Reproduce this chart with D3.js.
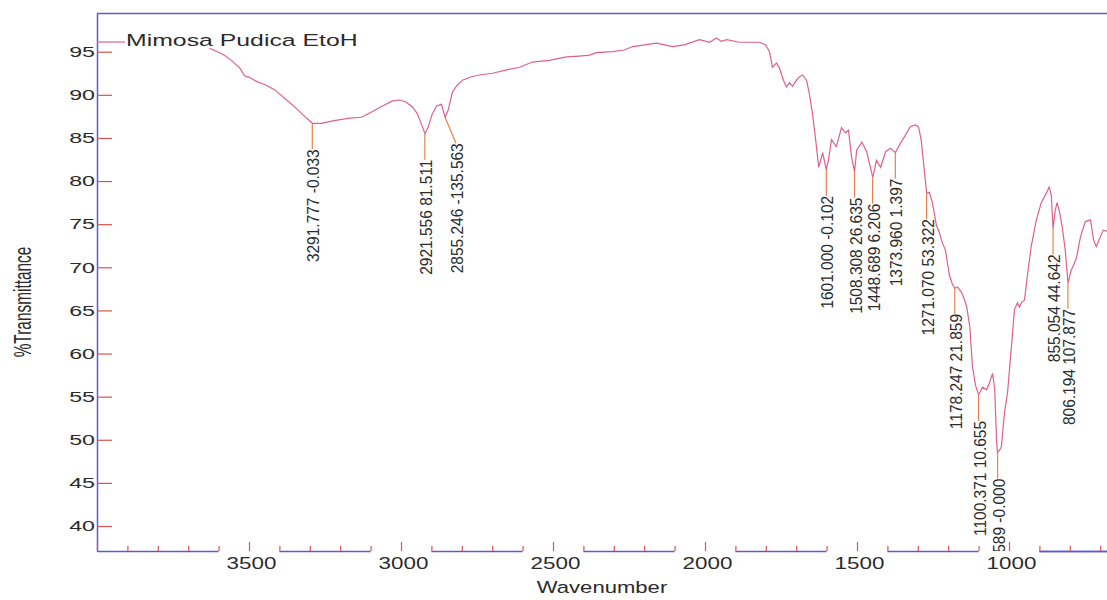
<!DOCTYPE html>
<html>
<head>
<meta charset="utf-8">
<script src="https://cdn.jsdelivr.net/npm/d3@7"></script>
<style>
  body { margin: 0; background: #fff; }
  text { font-family: "Liberation Sans", Arial, sans-serif; fill: #2b2b2b; }
</style>
</head>
<body>
<div id="chart"></div>
<script>
// spectrum (wavenumber cm-1, %T)
const wavenumber = [
  3630, 3604, 3581, 3558, 3530, 3515, 3498, 3472, 3449, 3416, 3383, 3350, 3317, 3291,
  3262, 3220, 3169, 3130, 3097, 3061, 3028, 3005, 2985, 2962, 2946, 2933, 2921, 2911,
  2898, 2883, 2867, 2855, 2845, 2831, 2818, 2798, 2768, 2742, 2699, 2653, 2610, 2568,
  2512, 2456, 2413, 2380, 2357, 2304, 2265, 2238, 2199, 2160, 2133, 2107, 2068, 2018,
  1985, 1962, 1946, 1929, 1887, 1854, 1821, 1801, 1788, 1778, 1765, 1755, 1742, 1732,
  1722, 1712, 1699, 1689, 1679, 1666, 1656, 1646, 1636, 1626, 1613, 1601, 1594, 1584,
  1568, 1551, 1538, 1528, 1518, 1508, 1501, 1484, 1468, 1458, 1448, 1436, 1422, 1406,
  1390, 1374, 1357, 1341, 1325, 1308, 1298, 1289, 1282, 1271, 1262, 1252, 1239, 1229,
  1219, 1209, 1203, 1196, 1186, 1178, 1169, 1156, 1146, 1139, 1129, 1120, 1110, 1100,
  1087, 1074, 1064, 1054, 1047, 1041, 1038, 1031, 1025, 1015, 1005, 992, 982, 972,
  966, 959, 949, 940, 927, 910, 894, 877, 868, 861, 855, 848, 842, 835,
  825, 815, 806, 795, 788, 778, 765, 749, 732, 722, 713, 700, 690, 673
];
const transmittance = [
  95.4, 95.0, 94.6, 94.0, 93.1, 92.2, 92.0, 91.5, 91.2, 90.6, 89.6, 88.6, 87.5, 86.7,
  86.7, 87.0, 87.3, 87.4, 88.0, 88.7, 89.3, 89.4, 89.2, 88.6, 87.8, 86.6, 85.5, 86.2,
  87.7, 88.7, 88.9, 87.4, 88.2, 90.3, 91.0, 91.7, 92.1, 92.3, 92.5, 92.9, 93.2, 93.8,
  94.0, 94.4, 94.5, 94.6, 94.9, 95.0, 95.2, 95.6, 95.8, 96.0, 95.8, 95.6, 95.8, 96.4,
  96.1, 96.6, 96.2, 96.4, 96.1, 96.1, 96.1, 95.8, 95.0, 93.2, 93.7, 93.1, 91.7, 90.9,
  91.4, 91.0, 91.7, 92.1, 92.3, 91.7, 90.0, 87.7, 84.8, 81.6, 83.3, 81.3, 82.4, 84.8,
  84.0, 86.2, 85.6, 85.9, 82.8, 81.1, 83.6, 84.5, 83.4, 81.9, 80.4, 82.4, 81.6, 83.4,
  83.8, 83.3, 84.4, 85.3, 86.3, 86.5, 86.3, 84.8, 82.4, 78.6, 78.7, 77.5, 74.9, 74.0,
  72.8, 72.0, 70.6, 69.1, 68.0, 67.6, 67.7, 67.1, 66.2, 65.4, 63.1, 58.4, 56.3, 55.2,
  56.1, 55.8, 56.6, 57.7, 55.8, 50.0, 48.5, 48.8, 49.2, 53.1, 55.4, 60.8, 65.1, 65.9,
  65.4, 65.9, 66.2, 68.9, 72.4, 75.5, 77.5, 78.6, 79.3, 78.4, 74.5, 76.6, 77.5, 76.6,
  74.7, 72.0, 68.2, 69.7, 70.2, 71.1, 73.5, 75.3, 75.5, 73.2, 72.4, 73.5, 74.3, 74.1
];

// peak picks
const peakWn = [3291.777, 2921.556, 2855.246, 1601.0, 1508.308, 1448.689, 1373.96,
  1271.07, 1178.247, 1100.371, 1037.589, 855.054, 806.194];
const peakT = [86.7, 85.5, 87.4, 81.3, 81.1, 80.4, 83.3, 78.6, 67.6, 55.2, 48.5, 74.5, 68.2];
const peakLabels = ["3291.777 -0.033", "2921.556 81.511", "2855.246 -135.563",
  "1601.000 -0.102", "1508.308 26.635", "1448.689 6.206", "1373.960 1.397",
  "1271.070 53.322", "1178.247 21.859", "1100.371 10.655", "1037.589 -0.000",
  "855.054 44.642", "806.194 107.877"];

const xMajor = [4000, 3500, 3000, 2500, 2000, 1500, 1000];
const yTicks = [40, 45, 50, 55, 60, 65, 70, 75, 80, 85, 90, 95];
const seriesName = "Mimosa Pudica EtoH";

const width = 1107;
const height = 600;
const margin = { top: 13, left: 97, bottom: 49 };
const blue = "#5b5bd4";
const red = "#d9534f";
const curveColor = "#e0608c";
const leaderColor = "#e8824a";

const svg = d3.select("#chart")
  .append("svg")
  .attr("width", width)
  .attr("height", height);

const x = d3.scaleLinear()
  .domain([4000, 400])
  .range([margin.left, margin.left + 3600 * 0.304]);

const y = d3.scaleLinear()
  .domain([37.1, 99.49])
  .range([height - margin.bottom, margin.top]);

const plotBottom = height - margin.bottom;

svg.append("clipPath")
  .attr("id", "plot-clip")
  .append("rect")
  .attr("x", margin.left)
  .attr("y", margin.top)
  .attr("width", width - margin.left)
  .attr("height", plotBottom - margin.top);

// top frame line
svg.append("line")
  .attr("x1", margin.left)
  .attr("x2", x(400))
  .attr("y1", margin.top + 0.5)
  .attr("y2", margin.top + 0.5)
  .attr("stroke", blue)
  .attr("stroke-width", 1.5);

// y axis
const yAxis = svg.append("g")
  .attr("class", "y axis")
  .attr("transform", "translate(" + margin.left + ",0)")
  .call(d3.axisLeft(y).tickValues(yTicks).tickSize(-15).tickSizeOuter(0).tickPadding(3));
yAxis.select(".domain").attr("stroke", blue).attr("stroke-width", 1.5);
yAxis.selectAll(".tick line").attr("stroke", red).attr("stroke-width", 1.2);
yAxis.selectAll(".tick text")
  .attr("x", -2 / 1.55)
  .attr("transform", "scale(1.55,1)")
  .style("font-size", "15px")
  .style("font-family", "'Liberation Sans', Arial, sans-serif")
  .attr("fill", "#2b2b2b");

// x axis: blue segments between labelled ticks
const segments = xMajor.map((m) => (m === 4000 ? [4000, 3600] : [m - 100, m - 400]));
segments.push([900, 600]);
svg.append("g")
  .selectAll("line")
  .data(segments)
  .enter()
  .append("line")
  .attr("x1", (d) => x(d[0]))
  .attr("x2", (d) => x(d[1]))
  .attr("y1", plotBottom + 0.5)
  .attr("y2", plotBottom + 0.5)
  .attr("stroke", blue)
  .attr("stroke-width", 1.5);

const minorAxis = svg.append("g")
  .attr("transform", "translate(0," + plotBottom + ")")
  .call(d3.axisBottom(x)
    .tickValues(d3.range(4000, 500, -100).filter((v) => v % 500 !== 0))
    .tickSize(-5)
    .tickFormat(""));
minorAxis.select(".domain").remove();
minorAxis.selectAll(".tick line").attr("stroke", red).attr("stroke-width", 1.2);

const xAxis = svg.append("g")
  .attr("class", "x axis")
  .attr("transform", "translate(0," + plotBottom + ")")
  .call(d3.axisBottom(x)
    .tickValues(xMajor)
    .tickSize(-9)
    .tickFormat((d) => (d === 4000 ? "" : d)));
xAxis.select(".domain").remove();
xAxis.selectAll(".tick line").attr("stroke", red).attr("stroke-width", 1.2);
xAxis.selectAll(".tick text")
  .attr("x", 2 / 1.4)
  .attr("y", 7)
  .attr("transform", "scale(1.4,1)")
  .style("font-size", "16px")
  .style("font-family", "'Liberation Sans', Arial, sans-serif")
  .attr("fill", "#2b2b2b");

// axis titles
svg.append("text")
  .text("Wavenumber")
  .attr("text-anchor", "middle")
  .attr("transform", "translate(602,593) scale(1.3,1)")
  .style("font-size", "17px");

svg.append("text")
  .text("%Transmittance")
  .attr("text-anchor", "middle")
  .attr("dy", "0.35em")
  .attr("transform", "translate(23,302) rotate(-90) scale(1,1.5)")
  .style("font-size", "15.4px");

// spectrum
const plot = svg.append("g").attr("clip-path", "url(#plot-clip)");
const line = d3.line()
  .x((d) => x(d[0]))
  .y((d) => y(d[1]));
plot.append("path")
  .datum(wavenumber.map((w, i) => [w, transmittance[i]]))
  .attr("fill", "none")
  .attr("stroke", curveColor)
  .attr("stroke-width", 1.2)
  .attr("d", line);

// peak labels
const leaderLen = 26;
const nudge = { 2855.246: 11 };
const peaks = peakWn.map((w, i) => ({ w: w, t: peakT[i], label: peakLabels[i] }));
const peakG = plot.selectAll(".peak").data(peaks).enter().append("g").attr("class", "peak");
peakG.append("line")
  .attr("x1", (d) => x(d.w))
  .attr("y1", (d) => y(d.t))
  .attr("x2", (d) => x(d.w) + (nudge[d.w] || 0))
  .attr("y2", (d) => y(d.t) + leaderLen)
  .attr("stroke", leaderColor)
  .attr("stroke-width", 1.2);
peakG.append("text")
  .text((d) => d.label)
  .attr("text-anchor", "end")
  .attr("dy", "0.36em")
  .attr("transform", (d) =>
    "translate(" + (x(d.w) + (nudge[d.w] || 0) + 1) + "," + (y(d.t) + leaderLen) + ") rotate(-90) scale(1,1.1)")
  .style("font-size", "15.5px");

// legend
svg.append("line")
  .attr("x1", margin.left)
  .attr("x2", 125)
  .attr("y1", 42)
  .attr("y2", 42)
  .attr("stroke", curveColor)
  .attr("stroke-width", 1.2);
svg.append("text")
  .text(seriesName)
  .attr("transform", "translate(126,46) scale(1.46,1)")
  .style("font-size", "17px");
</script>
</body>
</html>
